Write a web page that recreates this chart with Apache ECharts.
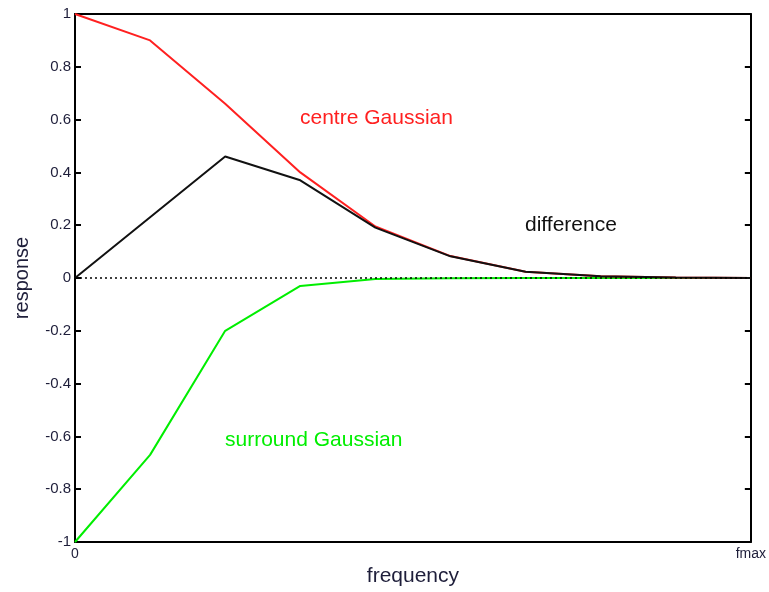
<!DOCTYPE html>
<html>
<head>
<meta charset="utf-8">
<script src="https://cdn.jsdelivr.net/npm/echarts@6/dist/echarts.min.js"></script>
<style>
html,body{margin:0;padding:0;background:#fff;overflow:hidden;}
#chart{position:absolute;left:0;top:0;width:769px;height:592px;}
</style>
</head>
<body>
<div id="chart"></div>
<script>
var freqIndex = [0, 1, 2, 3, 4, 5, 6, 7, 8, 9];
var centreGaussian = [1.0, 0.90, 0.66, 0.40, 0.195, 0.083, 0.024, 0.007, 0.002, 0.0];
var surroundGaussian = [-1.0, -0.67, -0.20, -0.03, -0.004, -0.001, 0.0, 0.0, 0.0, 0.0];
var difference = [0.0, 0.23, 0.46, 0.37, 0.191, 0.082, 0.024, 0.007, 0.002, 0.0];
var xTickLabels = {0: '0', 9: 'fmax'};
var yTicks = [-1, -0.8, -0.6, -0.4, -0.2, 0, 0.2, 0.4, 0.6, 0.8, 1];

function pairs(vals) { return freqIndex.map(function (x, i) { return [x, vals[i]]; }); }

var textColor = '#1e1e3a';
var font = 'Liberation Sans, Arial, sans-serif';
var chart = echarts.init(document.getElementById('chart'), null, {width: 769, height: 592});
chart.setOption({
  animation: false,
  backgroundColor: '#fff',
  grid: {left: 75, right: 17, top: 14, bottom: 46},
  xAxis: [{
    type: 'value', min: 0, max: 9, interval: 9, position: 'bottom',
    name: 'frequency', nameLocation: 'middle', nameGap: 24,
    nameTextStyle: {fontSize: 21, color: textColor, fontFamily: font},
    axisLine: {onZero: false, lineStyle: {color: '#000', width: 2}},
    axisTick: {show: false},
    splitLine: {show: false},
    axisLabel: {fontSize: 14, color: textColor, fontFamily: font, margin: 5,
      formatter: function (v) { return xTickLabels[v] !== undefined ? xTickLabels[v] : ''; }}
  }, {
    type: 'value', min: 0, max: 9, position: 'top',
    axisLine: {onZero: false, lineStyle: {color: '#000', width: 2}},
    axisTick: {show: false}, axisLabel: {show: false}, splitLine: {show: false}
  }],
  yAxis: [{
    type: 'value', min: -1, max: 1, interval: 0.2, position: 'left',
    name: 'response', nameLocation: 'middle', nameGap: 43,
    nameTextStyle: {fontSize: 20, color: textColor, fontFamily: font},
    axisLine: {onZero: false, lineStyle: {color: '#000', width: 2}},
    axisTick: {inside: true, length: 6, lineStyle: {color: '#000', width: 2}},
    splitLine: {show: false},
    axisLabel: {fontSize: 15, color: textColor, fontFamily: font, margin: 4,
      formatter: function (v) { var r = Math.round(v * 10) / 10; return String(r); }}
  }, {
    type: 'value', min: -1, max: 1, interval: 0.2, position: 'right',
    axisLine: {show: true, onZero: false, lineStyle: {color: '#000', width: 2}},
    axisTick: {show: true, inside: true, length: 6, lineStyle: {color: '#000', width: 2}},
    axisLabel: {show: false}, splitLine: {show: false}
  }],
  series: [
    {type: 'line', data: pairs(surroundGaussian), symbol: 'none', lineStyle: {color: '#00ee00', width: 2}, z: 2,
     markLine: {silent: true, symbol: 'none', label: {show: false},
       lineStyle: {color: '#000', type: [2, 3], width: 1.5}, data: [{yAxis: 0}]}},
    {type: 'line', data: pairs(centreGaussian), symbol: 'none', lineStyle: {color: '#ff2020', width: 2}, z: 3},
    {type: 'line', data: pairs(difference), symbol: 'none', lineStyle: {color: '#111', width: 2}, z: 4}
  ],
  graphic: [
    {type: 'text', left: 300, top: 108, style: {text: 'centre Gaussian', fill: '#ff2020', font: '21px ' + font}},
    {type: 'text', left: 525, top: 215, style: {text: 'difference', fill: '#111', font: '21px ' + font}},
    {type: 'text', left: 225, top: 430, style: {text: 'surround Gaussian', fill: '#00ee00', font: '21px ' + font}}
  ]
});
</script>
</body>
</html>
